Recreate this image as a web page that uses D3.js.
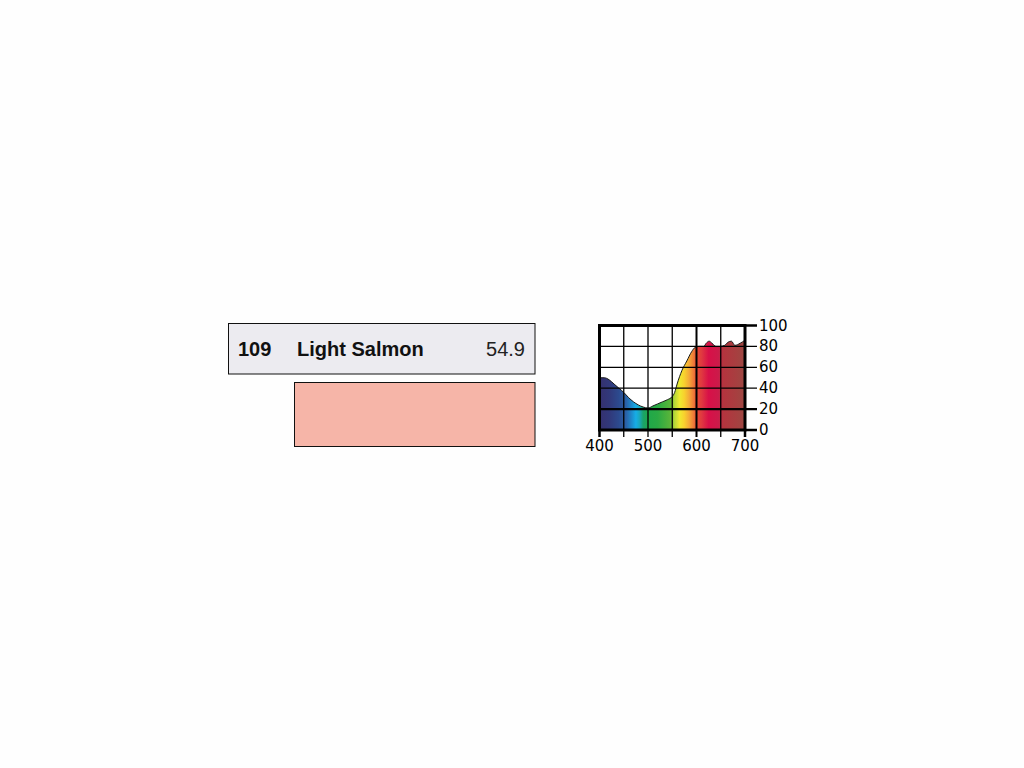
<!DOCTYPE html>
<html>
<head>
<meta charset="utf-8">
<script src="https://cdn.jsdelivr.net/npm/d3@7"></script>
<style>
  html, body { margin: 0; padding: 0; background: #fefefe; }
  svg { display: block; }
</style>
</head>
<body>
<svg id="chart" width="1024" height="768"></svg>
<script>
// Filter swatch card + spectral transmission chart

const filterCode = '109';
const filterName = 'Light Salmon';
const filterY = '54.9';
const swatchColor = '#f6b5a8';

// transmission (%)
const wavelengths = [400, 410, 420, 430, 440, 450, 460, 470, 480, 490, 500, 510, 520, 530, 540, 550, 555, 560, 565, 570, 580, 590, 597, 605, 615, 620, 626, 632, 640, 648, 658, 665, 672, 679, 690, 700];
const transmission = [50, 50, 48, 44, 40, 36, 31, 27, 24, 22, 21, 23, 25, 27, 29, 32, 36, 44, 51, 57, 66, 75, 79, 80, 80, 83, 85, 83, 80, 80, 81, 84, 85, 81, 83, 86];

// spectrum colours used for the fill
const specNm = [400, 420, 440, 455, 465, 475, 482, 490, 500, 520, 545, 555, 565, 575, 585, 595, 600, 610, 625, 645, 655, 680, 700];
const specColor = ['#35306e', '#31387a', '#2c4a8e', '#2a62a8', '#1f86c8', '#16aee6', '#1aa8c0', '#1aa36a', '#1fa84a', '#2aaa44', '#58b43a', '#b8d838', '#eeea30', '#f8d02e', '#f4a838', '#ee7438', '#e84a34', '#e03a40', '#d81048', '#cc1a4a', '#b4343e', '#a83e40', '#9c4842'];

const xTicks = [400, 450, 500, 550, 600, 650, 700];
const xLabels = [400, 500, 600, 700];
const yTicks = [0, 20, 40, 60, 80, 100];

const svg = d3.select('#chart');

// ---- swatch card ----
const card = svg.append('g');
card.append('rect')
    .attr('x', 228.5).attr('y', 323.5).attr('width', 306.5).attr('height', 50.5)
    .attr('fill', '#ecebf0').attr('stroke', '#111').attr('stroke-width', 1);
card.append('text')
    .attr('x', 238).attr('y', 356)
    .attr('font-family', 'Liberation Sans, Arial, sans-serif')
    .attr('font-weight', 'bold').attr('font-size', 20).attr('fill', '#111')
    .text(filterCode);
card.append('text')
    .attr('x', 297).attr('y', 356)
    .attr('font-family', 'Liberation Sans, Arial, sans-serif')
    .attr('font-weight', 'bold').attr('font-size', 20).attr('fill', '#111')
    .text(filterName);
card.append('text')
    .attr('x', 525).attr('y', 356).attr('text-anchor', 'end')
    .attr('font-family', 'Liberation Sans, Arial, sans-serif')
    .attr('font-size', 20).attr('fill', '#222')
    .text(filterY);
card.append('rect')
    .attr('x', 294.5).attr('y', 382.5).attr('width', 240.5).attr('height', 64)
    .attr('fill', swatchColor).attr('stroke', '#111').attr('stroke-width', 1);

// ---- spectral chart ----
const x = d3.scaleLinear().domain([400, 700]).range([599.5, 745]);
const y = d3.scaleLinear().domain([0, 100]).range([430, 325.5]);

const defs = svg.append('defs');
const grad = defs.append('linearGradient')
    .attr('id', 'spectrum')
    .attr('gradientUnits', 'userSpaceOnUse')
    .attr('x1', x(400)).attr('x2', x(700)).attr('y1', 0).attr('y2', 0);
grad.selectAll('stop')
    .data(specNm)
    .join('stop')
    .attr('offset', d => (d - 400) / 300)
    .attr('stop-color', (d, i) => specColor[i]);

const pts = wavelengths.map((w, i) => [w, transmission[i]]);

const area = d3.area()
    .x(d => x(d[0]))
    .y0(y(0))
    .y1(d => y(d[1]))
    .curve(d3.curveMonotoneX);

const line = d3.line()
    .x(d => x(d[0]))
    .y(d => y(d[1]))
    .curve(d3.curveMonotoneX);

const chart = svg.append('g');

chart.append('rect')
    .attr('x', x(400)).attr('y', y(100))
    .attr('width', x(700) - x(400)).attr('height', y(0) - y(100))
    .attr('fill', '#fff');

chart.append('path')
    .datum(pts)
    .attr('d', area)
    .attr('fill', 'url(#spectrum)');

chart.append('path')
    .datum(pts)
    .attr('d', line)
    .attr('fill', 'none')
    .attr('stroke', '#1a1a1a')
    .attr('stroke-width', 1);

// grid
chart.append('g')
    .selectAll('line')
    .data(xTicks.slice(1, -1))
    .join('line')
    .attr('x1', d => x(d)).attr('x2', d => x(d))
    .attr('y1', y(100)).attr('y2', y(0) + 7)
    .attr('stroke', '#000')
    .attr('stroke-width', d => d === 600 ? 2 : 1.3);

chart.append('g')
    .selectAll('line')
    .data(yTicks.slice(1, -1))
    .join('line')
    .attr('x1', x(400)).attr('x2', x(700) + 12)
    .attr('y1', d => y(d)).attr('y2', d => y(d))
    .attr('stroke', '#000')
    .attr('stroke-width', d => d === 20 ? 2.2 : 1.3);

// frame
chart.append('rect')
    .attr('x', x(400)).attr('y', y(100))
    .attr('width', x(700) - x(400)).attr('height', y(0) - y(100))
    .attr('fill', 'none').attr('stroke', '#000').attr('stroke-width', 3);

// outer ticks
chart.append('g')
    .selectAll('line')
    .data([400, 700])
    .join('line')
    .attr('x1', d => x(d)).attr('x2', d => x(d))
    .attr('y1', y(0)).attr('y2', y(0) + 7)
    .attr('stroke', '#000').attr('stroke-width', 2.5);

chart.append('g')
    .selectAll('line')
    .data([0, 100])
    .join('line')
    .attr('x1', x(700)).attr('x2', x(700) + 12)
    .attr('y1', d => y(d)).attr('y2', d => y(d))
    .attr('stroke', '#000').attr('stroke-width', 2.5);

// labels
chart.append('g')
    .selectAll('text')
    .data(xLabels)
    .join('text')
    .attr('x', d => x(d)).attr('y', 451)
    .attr('text-anchor', 'middle')
    .attr('font-family', 'DejaVu Sans, sans-serif')
    .attr('font-size', 15).attr('fill', '#000')
    .text(d => d);

chart.append('g')
    .selectAll('text')
    .data(yTicks)
    .join('text')
    .attr('x', x(700) + 14).attr('y', d => y(d) + 5)
    .attr('font-family', 'DejaVu Sans, sans-serif')
    .attr('font-size', 15).attr('fill', '#000')
    .text(d => d);
</script>
</body>
</html>
